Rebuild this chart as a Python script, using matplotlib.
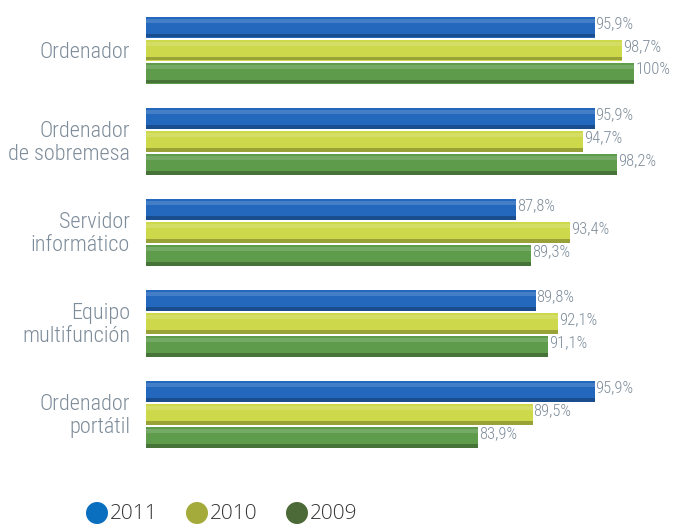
import matplotlib
matplotlib.use("Agg")
import matplotlib.pyplot as plt
from matplotlib import font_manager

categories = ["Ordenador", "Ordenador\nde sobremesa", "Servidor\ninformático",
              "Equipo\nmultifunción", "Ordenador\nportátil"]
years = ["2011", "2010", "2009"]
v2011 = [95.9, 95.9, 87.8, 89.8, 95.9]
v2010 = [98.7, 94.7, 93.4, 92.1, 89.5]
v2009 = [100.0, 98.2, 89.3, 91.1, 83.9]
series = [v2011, v2010, v2009]
bar_colors = ["#2468bd", "#cdd94a", "#5e9c4c"]
legend_colors = ["#0b6fc0", "#a5ab3a", "#4b6a38"]
label_color = "#7d8c9a"

available = set(f.name for f in font_manager.fontManager.ttflist)
candidates = ["Roboto Condensed", "Fira Sans Condensed", "IBM Plex Sans Condensed",
              "Encode Sans Condensed", "Archivo Narrow", "PT Sans Narrow",
              "Asap Condensed", "Barlow Condensed", "Open Sans Condensed"]
font_family = [c for c in candidates if c in available][:1] + ["DejaVu Sans"]
legend_family = ["Open Sans", "DejaVu Sans"]

W, H = 676, 524
fig = plt.figure(figsize=(W / 100, H / 100), dpi=100)
ax = fig.add_axes([146 / W, 0, 530 / W, 1])
ax.set_xlim(49.6, 104.3)
ax.set_ylim(H, 0)
ax.axis("off")

group_start, group_step, bar_step, bar_h = 50, 91, 23, 21
for i, cat in enumerate(categories):
    gc = group_start + i * group_step
    for j, vals in enumerate(series):
        y = gc + (j - 1) * bar_step
        v = vals[i]
        ax.barh(y, v - 49.6, left=49.6, height=bar_h, color=bar_colors[j],
                edgecolor="none", zorder=3)
        ax.barh(y - bar_h * 0.28, v - 49.6, left=49.6, height=bar_h * 0.18,
                color="white", alpha=0.15, edgecolor="none", zorder=4)
        ax.barh(y + bar_h * 0.42, v - 49.6, left=49.6, height=bar_h * 0.16,
                color="black", alpha=0.25, edgecolor="none", zorder=4)
        txt = ("%.1f%%" % v).replace(".", ",") if v != 100 else "100%"
        ax.text(v + 0.1, y - 3, txt, ha="left", va="center", fontsize=12,
                color=label_color, family=font_family, weight="light", zorder=5)
    ax.text(-0.03, 1 - (gc + 2) / H, cat, transform=ax.transAxes,
            ha="right", va="center", fontsize=16, color=label_color,
            family=font_family, weight="light", linespacing=1.15)

# legend drawn in a figure-wide overlay in pixel units
lax = fig.add_axes([0, 0, 1, 1], zorder=-1)
lax.set_xlim(0, W)
lax.set_ylim(H, 0)
lax.axis("off")
for k, (yr, c) in enumerate(zip(years, legend_colors)):
    x0 = 97 + k * 100
    lax.scatter([x0], [513], s=22 ** 2 * 0.52, color=c, edgecolor="none")
    lax.text(x0 + 13, 514, yr, ha="left", va="center", fontsize=15,
             color="#333333", family=legend_family, weight="light")

fig.savefig("out.png", dpi=100, facecolor="white")
